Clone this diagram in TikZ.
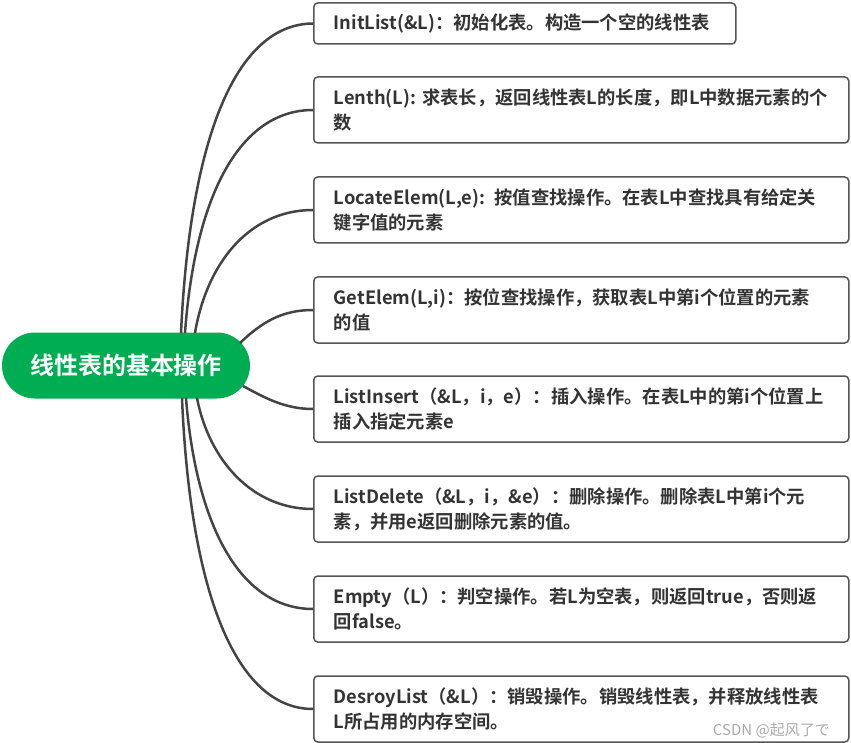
\documentclass[tikz,border=0pt]{standalone}
\usepackage{fontspec}
\setmainfont{Noto Sans CJK SC}[BoldFont={Noto Sans CJK SC Bold}]
\usetikzlibrary{shapes.misc}
\definecolor{rootgreen}{RGB}{0,173,82}
\definecolor{boxline}{RGB}{85,85,85}
\definecolor{linkline}{RGB}{68,68,68}
\definecolor{txt}{RGB}{51,51,51}
\definecolor{wm}{RGB}{170,170,170}
\tikzset{
  opbox/.style={draw=boxline, line width=1.5pt, rounded corners=4pt, anchor=west,
    text=txt, font=\bfseries\fontsize{18.3}{25}\selectfont, align=left,
    inner xsep=20pt, inner ysep=0pt, minimum height=66pt, text width=495pt},
  link/.style={draw=linkline, line width=2.5pt},
  rootnode/.style={rounded rectangle, fill=rootgreen, text=white,
    font=\bfseries\fontsize{24}{28}\selectfont, minimum width=248pt, minimum height=66pt, inner sep=0pt}
}
\begin{document}
\begin{tikzpicture}[x=1pt,y=-1pt]
\useasboundingbox (0,0) rectangle (851,743);
\node[rootnode] (root) at (126,365.5) {线性表的基本操作};
\node[opbox, minimum height=41pt, text width=382pt] (b1) at (313,23.5) {InitList(\&L)：初始化表。构造一个空的线性表};
\node[opbox] (b2) at (313,110) {Lenth(L): 求表长，返回线性表L的长度，即L中数据元素的个\\数};
\node[opbox] (b3) at (313,210) {LocateElem(L,e): 按值查找操作。在表L中查找具有给定关\\键字值的元素};
\node[opbox] (b4) at (313,310) {GetElem(L,i)：按位查找操作，获取表L中第i个位置的元素\\的值};
\node[opbox] (b5) at (313,409) {ListInsert（\&L，i，e）：插入操作。在表L中的第i个位置上\\插入指定元素e};
\node[opbox] (b6) at (313,509) {ListDelete（\&L，i，\&e）：删除操作。删除表L中第i个元\\素，并用e返回删除元素的值。};
\node[opbox] (b7) at (313,609) {Empty（L）：判空操作。若L为空表，则返回true，否则返\\回false。};
\node[opbox] (b8) at (313,709) {DesroyList（\&L）：销毁操作。销毁线性表，并释放线性表\\L所占用的内存空间。};
\node[text=wm, font=\fontsize{15}{17}\selectfont, anchor=east, inner sep=0pt] (wmk) at (830,730) {CSDN @起风了で};
\coordinate (s1) at (181,333);
\coordinate (s2) at (185,333);
\coordinate (s3) at (195,333);
\coordinate (s4) at (240,343);
\coordinate (s5) at (243,386);
\coordinate (s6) at (197,398);
\coordinate (s7) at (186,398);
\coordinate (s8) at (182,398);
\draw[link] (s1) .. controls (190,140) and (235,24) .. (b1.west);
\draw[link] (s2) .. controls (195,195) and (240,110) .. (b2.west);
\draw[link] (s3) .. controls (207,262) and (250,210) .. (b3.west);
\draw[link] (s4) .. controls (262,322) and (282,310) .. (b4.west);
\draw[link] (s5) .. controls (265,398) and (285,409) .. (b5.west);
\draw[link] (s6) .. controls (209,460) and (252,509) .. (b6.west);
\draw[link] (s7) .. controls (196,525) and (240,609) .. (b7.west);
\draw[link] (s8) .. controls (190,590) and (235,709) .. (b8.west);
\end{tikzpicture}
\end{document}
